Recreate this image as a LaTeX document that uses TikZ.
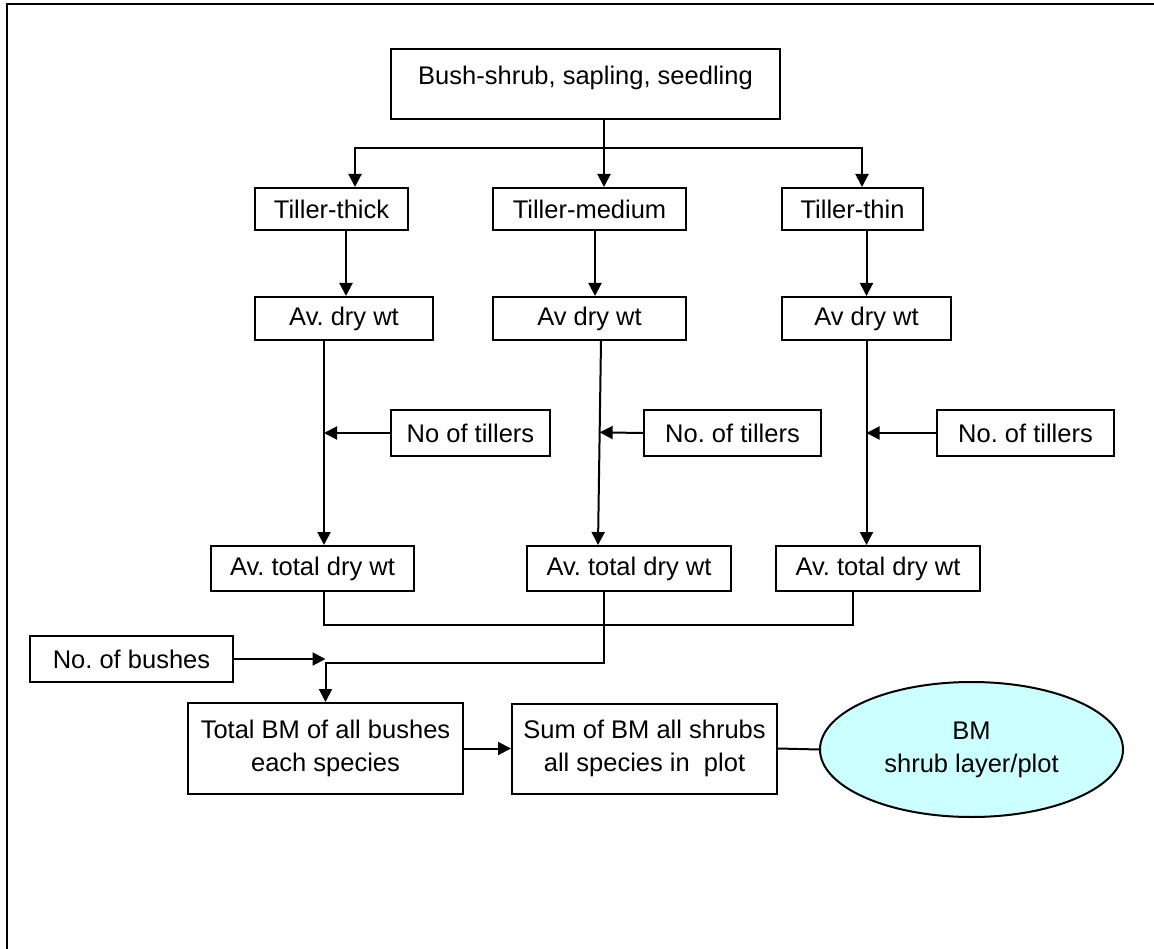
\documentclass[tikz,border=0pt]{standalone}
\usepackage{fontspec}
\setmainfont{Liberation Sans}
\usetikzlibrary{arrows.meta, shapes.geometric, calc, positioning}
\definecolor{bmcyan}{HTML}{CCFFFF}

\begin{document}
\begin{tikzpicture}[x=1pt,y=-1pt,line width=2pt,
    box/.style={draw, rectangle, inner sep=0pt, font=\fontsize{25.5}{33}\selectfont\frenchspacing},
    arr/.style={-{Triangle[length=13pt,width=13pt]}}]
  \useasboundingbox (0,0) rectangle (1154,949);
  % frame, open at right and bottom
  \draw[line width=2.6pt] (7,949) -- (7,4) -- (1154,4);

  \node[box, minimum width=389pt, minimum height=70pt, text height=19pt, text depth=18pt] (top) at (585.5,84) {Bush-shrub, sapling, seedling};

  % tillers
  \node[box, minimum width=153pt, minimum height=42pt] (tthick) at (331.5,209) {Tiller-thick};
  \node[box, minimum width=193pt, minimum height=42pt] (tmed) at (589.5,209) {Tiller-medium};
  \node[box, minimum width=141pt, minimum height=42pt] (tthin) at (852.5,209) {Tiller-thin};

  % average dry weight
  \node[box, minimum width=178pt, minimum height=43pt] (dthick) at (344,318.5) {Av. dry wt};
  \node[box, minimum width=193pt, minimum height=43pt] (dmed) at (589.5,318.5) {Av dry wt};
  \node[box, minimum width=169pt, minimum height=43pt] (dthin) at (866.5,318.5) {Av dry wt};

  % number of tillers
  \node[box, minimum width=159pt, minimum height=46pt] (nthick) at (470.5,433) {No of tillers};
  \node[box, minimum width=177pt, minimum height=46pt] (nmed) at (732.5,433) {No. of tillers};
  \node[box, minimum width=177pt, minimum height=46pt] (nthin) at (1025.5,433) {No. of tillers};

  % average total dry weight
  \node[box, minimum width=203pt, minimum height=45pt] (tdthick) at (312.5,568.5) {Av. total dry wt};
  \node[box, minimum width=204pt, minimum height=45pt] (tdmed) at (629,568.5) {Av. total dry wt};
  \node[box, minimum width=204pt, minimum height=45pt] (tdthin) at (878,568.5) {Av. total dry wt};

  \node[box, minimum width=203pt, minimum height=46pt] (bushes) at (131.5,659) {No. of bushes};
  \node[box, minimum width=275pt, minimum height=91pt, align=center] (allbush) at (325.5,748.5) {Total BM of all bushes\\each species};
  \node[box, minimum width=265pt, minimum height=90pt, align=center] (allshrub) at (644.5,748.5) {Sum of BM all shrubs\\all species in\ \ plot};
  \node[box, ellipse, fill=bmcyan, minimum width=303pt, minimum height=135pt, align=center] (result) at (971.5,749.5) {BM\\shrub layer/plot};

  % split into tiller classes
  \coordinate (split) at (604,148);
  \coordinate (brL) at (355,148);
  \coordinate (brR) at (862,148);
  \draw (top.south -| split) -- (split);
  \draw[arr] (split) -- (split |- tmed.north);
  \draw[arr] (split) -- (brL) -- (brL |- tthick.north);
  \draw[arr] (split) -- (brR) -- (brR |- tthin.north);

  \draw[arr] ([xshift=14.5pt]tthick.south) -- ([xshift=2pt]dthick.north);
  \draw[arr] ([xshift=5.5pt]tmed.south) -- ([xshift=5.5pt]dmed.north);
  \draw[arr] (dthin.north |- tthin.south) -- (dthin.north);

  % dry wt times no of tillers
  \coordinate (vthick) at ([xshift=-20pt]dthick.south);
  \coordinate (vmedtop) at ([xshift=11.5pt]dmed.south);
  \coordinate (vmedbot) at ([xshift=-31pt]tdmed.north);
  \coordinate (vthin) at (dthin.south);
  \draw[arr] (vthick) -- (vthick |- tdthick.north);
  \draw[arr] (vmedtop) -- (vmedbot);
  \draw[arr] (vthin) -- (vthin |- tdthin.north);
  \draw[arr] (nthick.west) -- (nthick.west -| vthick);
  \draw[arr] (nmed.west) -- ($(vmedtop)!(nmed.west)!(vmedbot)$);
  \draw[arr] (nthin.west) -- (nthin.west -| vthin);

  % join
  \coordinate (joinL) at (324,625);
  \coordinate (joinR) at (853,625);
  \coordinate (knee) at (604,663);
  \draw (tdthick.south -| joinL) -- (joinL) -- (joinR) -- (tdthin.south -| joinR);
  \draw[arr] (tdmed.south -| knee) -- (knee) -| (allbush.north);
  \draw[arr] (bushes.east) -- (bushes.east -| allbush.north);

  \draw[arr] (allbush.east) -- (allshrub.west);
  \draw (allshrub.east) -- (result.west);
\end{tikzpicture}
\end{document}
